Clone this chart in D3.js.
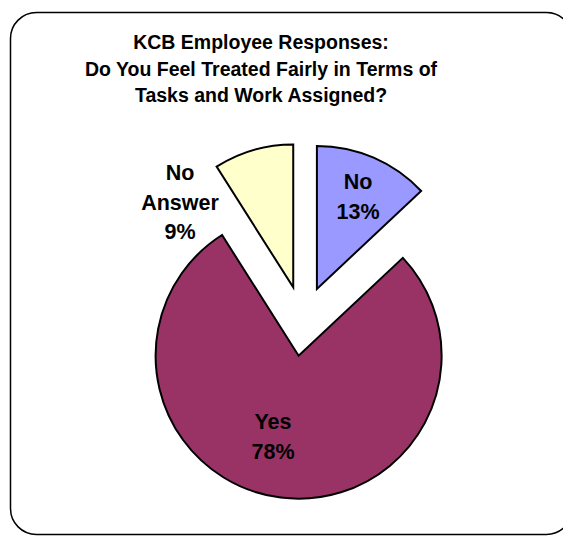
<!DOCTYPE html>
<meta charset="utf-8">
<style>
body { margin: 0; background: #fff; }
svg { display: block; font-family: Arial, "Liberation Sans", sans-serif; }
.frame { fill: #fff; stroke: #000; stroke-width: 1.5px; }
.title { font-size: 19.5px; font-weight: bold; text-anchor: middle; }
.slice { stroke: #000; stroke-width: 2px; stroke-linejoin: miter; }
.label { font-size: 21.5px; font-weight: bold; text-anchor: middle; }
</style>
<svg width="563" height="537"></svg>
<script src="https://cdn.jsdelivr.net/npm/d3@7"></script>
<script>

var categories = ["No", "Yes", "No Answer"];
var values = [13, 78, 9];
var colors = ["#9999ff", "#993366", "#ffffcc"];
var titleLines = ["KCB Employee Responses:", "Do You Feel Treated Fairly in Terms of", "Tasks and Work Assigned?"];

var svg = d3.select("svg");

svg.append("rect")
    .attr("class", "frame")
    .attr("x", 10.5).attr("y", 12.5)
    .attr("width", 562).attr("height", 522)
    .attr("rx", 26).attr("ry", 26);

svg.selectAll(".title")
    .data(titleLines)
  .enter().append("text")
    .attr("class", "title")
    .attr("x", 261)
    .attr("y", function(d, i) { return 49 + i * 26.5; })
    .text(function(d) { return d; });

var cx = 303, cy = 321, radius = 143, explode = 35;

var pie = d3.pie().sort(null).value(function(d) { return d; });
var arc = d3.arc().innerRadius(0).outerRadius(radius);
var arcs = pie(values);

function offset(d) {
  var a = (d.startAngle + d.endAngle) / 2;
  return [explode * Math.sin(a), -explode * Math.cos(a)];
}

var g = svg.append("g").attr("transform", "translate(" + cx + "," + cy + ")");

g.selectAll(".slice")
    .data(arcs)
  .enter().append("path")
    .attr("class", "slice")
    .attr("fill", function(d, i) { return colors[i]; })
    .attr("transform", function(d) { return "translate(" + offset(d) + ")"; })
    .attr("d", arc);

// label anchor points (absolute)
var labelPos = [[358, 189], [273, 429], [180, 180]];

arcs.forEach(function(d, i) {
  var lines = categories[i].split(" ").concat([values[i] + "%"]);
  var t = svg.append("text").attr("class", "label");
  lines.forEach(function(s, j) {
    t.append("tspan")
        .attr("x", labelPos[i][0])
        .attr("y", labelPos[i][1] + j * 29.5)
        .text(s);
  });
});

</script>
